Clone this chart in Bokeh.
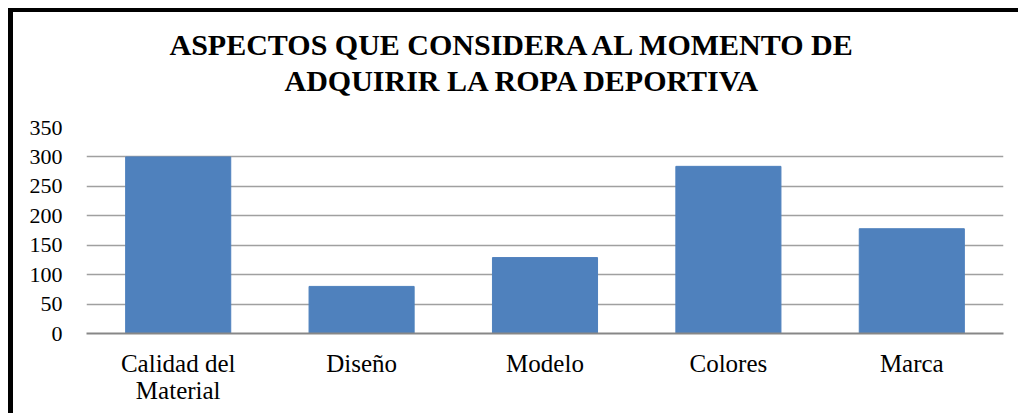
from bokeh.plotting import figure
from bokeh.models import Title
from bokeh.embed import file_html
from bokeh.resources import INLINE

categories = ["Calidad del\nMaterial", "Diseño", "Modelo", "Colores", "Marca"]
values = [300, 80, 129, 284, 178]
y_ticks = [0, 50, 100, 150, 200, 250, 300, 350]
title_lines = ["ASPECTOS QUE CONSIDERA AL MOMENTO DE", "ADQUIRIR LA ROPA DEPORTIVA"]
title_offsets = [83, 198]

p = figure(x_range=categories, y_range=(0, 350), width=1010, height=405,
           output_backend="svg", toolbar_location=None,
           min_border_left=73, min_border_right=20, min_border_top=115, min_border_bottom=84,
           outline_line_color=None)
p.styles = {"border-left": "5px solid black", "border-top": "4px solid black",
            "margin-left": "8px", "margin-top": "8px"}

# spacer between the plot frame and the second title line
p.add_layout(Title(text=" ", text_font_size="2px", standoff=26), "above")
for line, off in reversed(list(zip(title_lines, title_offsets))):
    t = Title(text=line, align="left", offset=off, text_font="Liberation Serif",
              text_font_size="30px", text_font_style="bold", text_color="black",
              standoff=1)
    p.add_layout(t, "above")

p.vbar(x=categories, top=values, width=0.573, color="#4F81BD")

p.x_range.range_padding = 0
p.yaxis.ticker = y_ticks
p.yaxis.axis_line_color = None
p.yaxis.major_tick_line_color = None
p.yaxis.minor_tick_line_color = None
p.yaxis.major_label_text_font = "Liberation Serif"
p.yaxis.major_label_text_font_size = "22px"
p.yaxis.major_label_text_color = "black"
p.yaxis.major_label_standoff = 18

p.xaxis.axis_line_color = "#878787"
p.xaxis.axis_line_width = 2
p.xaxis.major_tick_line_color = None
p.xaxis.minor_tick_line_color = None
p.xaxis.major_label_text_font = "Liberation Serif"
p.xaxis.major_label_text_font_size = "25px"
p.xaxis.major_label_text_line_height = 1.0
p.xaxis.major_label_text_color = "black"
p.xaxis.major_label_standoff = 10

p.xgrid.grid_line_color = None
p.ygrid.grid_line_color = "#A0A0A0"
p.ygrid.grid_line_width = 1.5

open("out.html", "w").write(file_html(p, INLINE))
